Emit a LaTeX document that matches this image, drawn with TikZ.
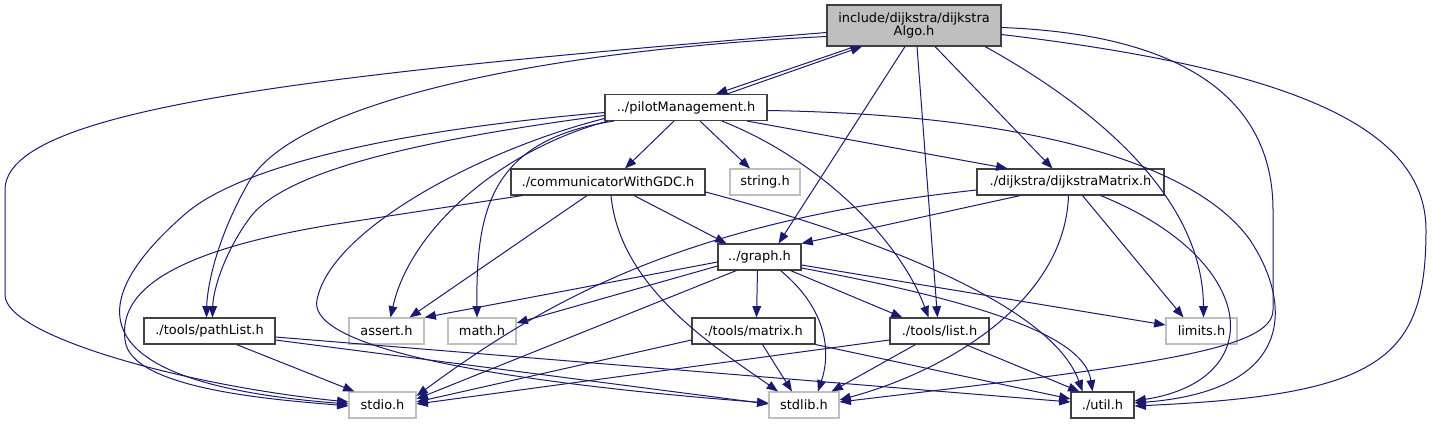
\documentclass[tikz,border=0pt]{standalone}
\usepackage{fontspec}
\setmainfont{DejaVu Sans}
\usetikzlibrary{arrows.meta}
\definecolor{edgeblue}{HTML}{191970}
\definecolor{hdrfill}{HTML}{BFBFBF}
\definecolor{hdrline}{HTML}{404040}
\tikzset{
  hdr/.style={draw=hdrline, fill=white, line width=0.8pt, inner sep=0pt,
    minimum height=19.5pt, font=\fontsize{9.7pt}{10.2pt}\selectfont},
  syshdr/.style={hdr, draw=hdrfill},
  dep/.style={draw=edgeblue, line width=0.75pt,
    -{Triangle[length=8.5pt,width=6.5pt,fill=edgeblue]}}
}
\begin{document}
\begin{tikzpicture}[x=0.75pt, y=-0.75pt]
  \useasboundingbox (0,0) rectangle (1432,425);
  % headers (centres in px)
  \node[hdr, fill=hdrfill, minimum width=130.5pt, minimum height=30.75pt, align=center]
    (algo) at (914,25.5) {include/dijkstra/dijkstra\\Algo.h};
  \node[hdr, minimum width=121.5pt] (pilot) at (686,107.5) {../pilotManagement.h};
  \node[hdr, minimum width=145.5pt] (comm) at (608,182) {./communicatorWithGDC.h};
  \node[syshdr, minimum width=52.5pt] (string) at (765,182) {string.h};
  \node[hdr, minimum width=140.25pt] (dmat) at (1070.5,182) {./dijkstra/dijkstraMatrix.h};
  \node[hdr, minimum width=62.25pt] (graph) at (759.5,257) {../graph.h};
  \node[hdr, minimum width=98.25pt] (pathList) at (209.5,331) {./tools/pathList.h};
  \node[syshdr, minimum width=56.25pt] (assert) at (386.5,331) {assert.h};
  \node[syshdr, minimum width=51pt] (math) at (482,331) {math.h};
  \node[hdr, minimum width=92.25pt] (tmat) at (753.5,331) {./tools/matrix.h};
  \node[hdr, minimum width=74.25pt] (list) at (939.5,331) {./tools/list.h};
  \node[syshdr, minimum width=53.25pt] (limits) at (1201.5,331) {limits.h};
  \node[syshdr, minimum width=50.25pt] (stdio) at (382.5,405) {stdio.h};
  \node[syshdr, minimum width=52.5pt] (stdlib) at (804,405) {stdlib.h};
  \node[hdr, minimum width=47.25pt] (util) at (1102.5,405) {./util.h};

  % straight includes: from/dx/dy/to/dx/dy
  \foreach \a/\ax/\ay/\b/\bx/\by in {
      algo.south/-59/0/pilot.north/30/0,
      pilot.north/41/0/algo.south/-52/0,
      pilot.south/-12/0/comm.north/17/0,
      pilot.south/14/0/string.north/-15/0,
      pilot.south/61/0/dmat.north/-63/0,
      algo.south/-9/0/graph.north/19/0,
      algo.south/3/0/list.north/-2/0,
      algo.south/21/0/dmat.north/-18/0,
      comm.south/26/0/graph.north west/9/0,
      comm.south/-21/0/assert.north/23/0,
      dmat.south/-50/0/graph.north east/0/0,
      dmat.south/12/0/limits.north/-18/0,
      graph.west/0/5/assert.north east/0/0,
      graph.west/0/9/math.east/0/-8,
      graph.south west/19/0/stdio.east/0/-6,
      graph.south/-2/0/tmat.north/3/0,
      graph.south/31/0/list.north/-37/0,
      graph.east/0/8/limits.west/0/-6,
      pathList.south/27/0/stdio.north west/6/0,
      pathList.east/0/9/stdlib.west/0/-1,
      pathList.east/0/6/util.west/0/-3,
      tmat.west/0/9/stdio.east/0/-3,
      tmat.south/9/0/stdlib.north/-12/0,
      tmat.south east/0/0/util.west/0/-6,
      list.west/0/9/stdio.east/0/-1,
      list.south/-24/0/stdlib.north east/-8/0,
      list.south/26/0/util.north west/9/0}
    \draw[dep] ([shift={(\ax,\ay)}]\a) -- ([shift={(\bx,\by)}]\b);

  % curved includes
  \draw[dep] ([shift={(0,7)}]algo.west) .. controls (300,75) and (5,110) .. (5,190)
    -- (5,295) .. controls (5,335) and (180,385) .. ([shift={(0,-3)}]stdio.west);
  \draw[dep] ([shift={(0,11)}]algo.west) .. controls (550,50) and (300,100) .. (250,180)
    .. controls (215,240) and (207,290) .. ([shift={(-3,0)}]pathList.north);
  \draw[dep] ([shift={(71,0)}]algo.south) .. controls (1100,110) and (1203,200) .. ([shift={(2,0)}]limits.north);
  \draw[dep] ([shift={(0,2)}]algo.east) .. controls (1200,35) and (1273,110) .. (1273,210)
    -- (1273,310) .. controls (1273,350) and (1150,365) .. ([shift={(0,-3)}]stdlib.east);
  \draw[dep] ([shift={(0,9)}]algo.east) .. controls (1300,70) and (1426,130) .. (1426,230)
    .. controls (1426,360) and (1380,395) .. ([shift={(0,1)}]util.east);
  \draw[dep] ([shift={(0,5)}]pilot.west) .. controls (400,130) and (240,165) .. (184,215)
    .. controls (110,280) and (40,380) .. ([shift={(0,-1)}]stdio.west);
  \draw[dep] ([shift={(0,8)}]pilot.west) .. controls (420,140) and (290,170) .. (252,215)
    .. controls (225,250) and (213,290) .. ([shift={(3,0)}]pathList.north);
  \draw[dep] ([shift={(0,11)}]pilot.west) .. controls (480,150) and (330,230) .. (317,300)
    .. controls (305,360) and (600,390) .. ([shift={(0,-2)}]stdlib.west);
  \draw[dep] ([shift={(-78,0)}]pilot.south) .. controls (500,150) and (410,230) .. ([shift={(4,0)}]assert.north);
  \draw[dep] ([shift={(-72,0)}]pilot.south) .. controls (490,140) and (476,210) .. ([shift={(-5,0)}]math.north);
  \draw[dep] ([shift={(36,0)}]pilot.south) .. controls (820,160) and (900,240) .. ([shift={(-11,0)}]list.north);
  \draw[dep] ([shift={(0,3)}]pilot.east) .. controls (1050,115) and (1200,170) .. (1250,240)
    .. controls (1290,300) and (1300,390) .. ([shift={(0,-2)}]util.east);
  \draw[dep] ([shift={(3,0)}]comm.south) .. controls (620,290) and (720,350) .. ([shift={(-26,0)}]stdlib.north);
  \draw[dep] ([shift={(12,0)}]comm.south west) -- (330,225) .. controls (150,255) and (120,300) .. (125,340)
    .. controls (130,390) and (280,400) .. ([shift={(0,1)}]stdio.west);
  \draw[dep] ([shift={(0,10)}]comm.east) .. controls (850,230) and (1050,300) .. ([shift={(-20,0)}]util.north);
  \draw[dep] ([shift={(0,8)}]dmat.west) .. controls (700,220) and (560,290) .. ([shift={(0,-9)}]stdio.east);
  \draw[dep] ([shift={(-2,0)}]dmat.south) .. controls (1065,300) and (950,370) .. ([shift={(0,-5)}]stdlib.east);
  \draw[dep] ([shift={(30,0)}]dmat.south) .. controls (1260,260) and (1270,380) .. ([shift={(0,-4)}]util.east);
  \draw[dep] ([shift={(21,0)}]graph.south) .. controls (840,320) and (825,370) .. ([shift={(14,0)}]stdlib.north);
  \draw[dep] ([shift={(0,11)}]graph.east) .. controls (1000,305) and (1085,340) .. ([shift={(-10,0)}]util.north);
\end{tikzpicture}
\end{document}
